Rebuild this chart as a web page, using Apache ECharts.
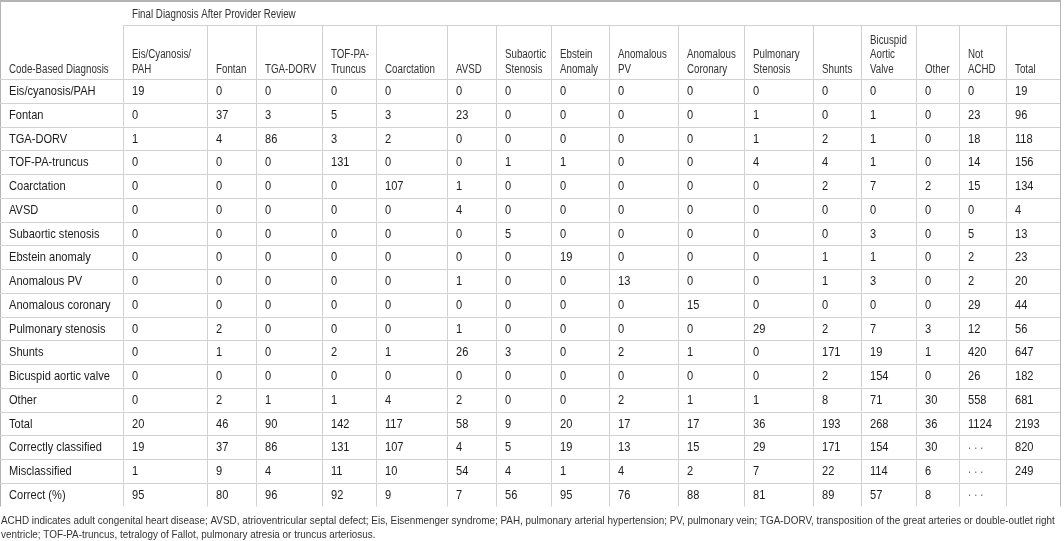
<!DOCTYPE html>
<html><head><meta charset="utf-8">
<script src="https://cdn.jsdelivr.net/npm/echarts@6/dist/echarts.min.js"></script>
<style>html,body{margin:0;padding:0;background:#fff}#c{width:1064px;height:541px}</style>
</head><body><div id="c"></div>
<script>
// ---------- DATA ----------
const spanHeader = 'Final Diagnosis After Provider Review';
const rowHeaderTitle = 'Code-Based Diagnosis';
const colHeaders = [
  'Eis/Cyanosis/\nPAH', 'Fontan', 'TGA-DORV', 'TOF-PA-\nTruncus', 'Coarctation', 'AVSD',
  'Subaortic\nStenosis', 'Ebstein\nAnomaly', 'Anomalous\nPV', 'Anomalous\nCoronary',
  'Pulmonary\nStenosis', 'Shunts', 'Bicuspid\nAortic\nValve', 'Other', 'Not\nACHD', 'Total'
];
const rowLabels = [
  'Eis/cyanosis/PAH', 'Fontan', 'TGA-DORV', 'TOF-PA-truncus', 'Coarctation', 'AVSD',
  'Subaortic stenosis', 'Ebstein anomaly', 'Anomalous PV', 'Anomalous coronary',
  'Pulmonary stenosis', 'Shunts', 'Bicuspid aortic valve', 'Other', 'Total',
  'Correctly classified', 'Misclassified', 'Correct (%)'
];
const rowEis        = [19, 0, 0, 0, 0, 0, 0, 0, 0, 0, 0, 0, 0, 0, 0, 19];
const rowFontan     = [0, 37, 3, 5, 3, 23, 0, 0, 0, 0, 1, 0, 1, 0, 23, 96];
const rowTgaDorv    = [1, 4, 86, 3, 2, 0, 0, 0, 0, 0, 1, 2, 1, 0, 18, 118];
const rowTof        = [0, 0, 0, 131, 0, 0, 1, 1, 0, 0, 4, 4, 1, 0, 14, 156];
const rowCoarct     = [0, 0, 0, 0, 107, 1, 0, 0, 0, 0, 0, 2, 7, 2, 15, 134];
const rowAvsd       = [0, 0, 0, 0, 0, 4, 0, 0, 0, 0, 0, 0, 0, 0, 0, 4];
const rowSubaortic  = [0, 0, 0, 0, 0, 0, 5, 0, 0, 0, 0, 0, 3, 0, 5, 13];
const rowEbstein    = [0, 0, 0, 0, 0, 0, 0, 19, 0, 0, 0, 1, 1, 0, 2, 23];
const rowAnomPV     = [0, 0, 0, 0, 0, 1, 0, 0, 13, 0, 0, 1, 3, 0, 2, 20];
const rowAnomCor    = [0, 0, 0, 0, 0, 0, 0, 0, 0, 15, 0, 0, 0, 0, 29, 44];
const rowPulmSten   = [0, 2, 0, 0, 0, 1, 0, 0, 0, 0, 29, 2, 7, 3, 12, 56];
const rowShunts     = [0, 1, 0, 2, 1, 26, 3, 0, 2, 1, 0, 171, 19, 1, 420, 647];
const rowBicuspid   = [0, 0, 0, 0, 0, 0, 0, 0, 0, 0, 0, 2, 154, 0, 26, 182];
const rowOther      = [0, 2, 1, 1, 4, 2, 0, 0, 2, 1, 1, 8, 71, 30, 558, 681];
const rowTotal      = [20, 46, 90, 142, 117, 58, 9, 20, 17, 17, 36, 193, 268, 36, 1124, 2193];
const rowCorrectly  = [19, 37, 86, 131, 107, 4, 5, 19, 13, 15, 29, 171, 154, 30, '. . .', 820];
const rowMisclass   = [1, 9, 4, 11, 10, 54, 4, 1, 4, 2, 7, 22, 114, 6, '. . .', 249];
const rowCorrectPct = [95, 80, 96, 92, 9, 7, 56, 95, 76, 88, 81, 89, 57, 8, '. . .', ''];
const tableRows = [rowEis, rowFontan, rowTgaDorv, rowTof, rowCoarct, rowAvsd, rowSubaortic,
  rowEbstein, rowAnomPV, rowAnomCor, rowPulmSten, rowShunts, rowBicuspid, rowOther,
  rowTotal, rowCorrectly, rowMisclass, rowCorrectPct];
const footnoteLines = [
  'ACHD indicates adult congenital heart disease; AVSD, atrioventricular septal defect; Eis, Eisenmenger syndrome; PAH, pulmonary arterial hypertension; PV, pulmonary vein; TGA-DORV, transposition of the great arteries or double-outlet right',
  'ventricle; TOF-PA-truncus, tetralogy of Fallot, pulmonary atresia or truncus arteriosus.'
];

// ---------- LAYOUT ----------
const colWidths = [123, 84, 49, 66, 54, 71, 49, 55, 58, 69, 66, 69, 48, 55, 43, 47, 54];
const headerHeights = [24, 54];
const rowHeight = 23.75;
const padX = 9;
const narrow = 0.82;
const lineColor = '#d2d2d2';
const borderColor = '#b4b4b4';
const bodyFont = '13.5px "Liberation Sans", Arial, sans-serif';
const headFont = '12.5px "Liberation Sans", Arial, sans-serif';
const footFont = '11.5px "Liberation Sans", Arial, sans-serif';

const colEdges = [0];
colWidths.forEach(w => colEdges.push(colEdges[colEdges.length - 1] + w));
const tableWidth = colEdges[colEdges.length - 1];
const headTotal = headerHeights[0] + headerHeights[1];
const tableHeight = headTotal + rowLabels.length * rowHeight;

const bodyCells = [];
rowLabels.forEach((lab, r) => {
  bodyCells.push({ c: 0, r, text: lab });
  tableRows[r].forEach((v, j) => bodyCells.push({ c: j + 1, r, text: String(v) }));
});
const headCells = [{ c: 0, text: rowHeaderTitle }];
colHeaders.forEach((h, j) => headCells.push({ c: j + 1, text: h }));

const crisp = v => Math.round(v) + 0.5;
const narrowText = (px, py, style, sx) => ({
  type: 'text', x: px, y: py, scaleX: sx || narrow, scaleY: 1,
  style: Object.assign({ x: 0, y: 0, align: 'left' }, style)
});

const chart = echarts.init(document.getElementById('c'), null, { renderer: 'canvas' });
chart.setOption({
  animation: false,
  backgroundColor: '#ffffff',
  grid: { left: 0, top: 1, width: tableWidth, height: tableHeight, containLabel: false },
  xAxis: { type: 'value', min: 0, max: tableWidth, show: false },
  yAxis: { type: 'value', min: 0, max: tableHeight, inverse: true, show: false },
  series: [
    {
      type: 'custom',
      name: 'header',
      silent: true,
      data: headCells.map(h => [colEdges[h.c], 0]),
      renderItem(params, api) {
        const cell = headCells[params.dataIndex];
        const children = [];
        const y0 = cell.c === 0 ? 0 : headerHeights[0];
        const a = api.coord([colEdges[cell.c], y0]);
        const b = api.coord([colEdges[cell.c + 1], headTotal]);
        if (cell.c > 0) {
          children.push({ type: 'line', shape: { x1: crisp(a[0]), y1: a[1], x2: crisp(a[0]), y2: b[1] },
            style: { stroke: lineColor, lineWidth: 1 } });
          children.push({ type: 'line', shape: { x1: a[0], y1: crisp(a[1]), x2: b[0], y2: crisp(a[1]) },
            style: { stroke: lineColor, lineWidth: 1 } });
        }
        children.push(narrowText(a[0] + padX, b[1] - 2.5, {
          text: cell.text, verticalAlign: 'bottom', font: headFont, lineHeight: 14.5, fill: '#333333' }, 0.78));
        if (cell.c === 1) {
          const s = api.coord([colEdges[1], headerHeights[0] / 2 + 1.5]);
          children.push(narrowText(s[0] + padX, s[1], {
            text: spanHeader, verticalAlign: 'middle', font: headFont, fill: '#333333' }, 0.78));
        }
        return { type: 'group', children };
      }
    },
    {
      type: 'custom',
      name: 'body',
      silent: true,
      data: bodyCells.map(d => [colEdges[d.c], headTotal + d.r * rowHeight]),
      renderItem(params, api) {
        const cell = bodyCells[params.dataIndex];
        const y0 = headTotal + cell.r * rowHeight;
        const a = api.coord([colEdges[cell.c], y0]);
        const b = api.coord([colEdges[cell.c + 1], y0 + rowHeight]);
        const children = [
          { type: 'line', shape: { x1: a[0], y1: crisp(a[1]), x2: b[0], y2: crisp(a[1]) },
            style: { stroke: lineColor, lineWidth: 1 } }
        ];
        if (cell.c > 0) {
          children.push({ type: 'line', shape: { x1: crisp(a[0]), y1: a[1], x2: crisp(a[0]), y2: b[1] },
            style: { stroke: lineColor, lineWidth: 1 } });
        }
        const dots = cell.text === '. . .';
        children.push(narrowText(a[0] + padX, (a[1] + b[1]) / 2 + (dots ? -2 : 0.5), {
          text: cell.text, verticalAlign: 'middle', font: bodyFont,
          fill: dots ? '#666666' : '#1c1c1c' }));
        return { type: 'group', children };
      }
    }
  ]
});

const tl = chart.convertToPixel({ gridIndex: 0 }, [0, 0]);
const br = chart.convertToPixel({ gridIndex: 0 }, [tableWidth, tableHeight]);
chart.setOption({
  graphic: [
    { type: 'line', silent: true, shape: { x1: tl[0], y1: tl[1], x2: br[0] + 1, y2: tl[1] },
      style: { stroke: borderColor, lineWidth: 2 } },
    { type: 'line', silent: true, shape: { x1: crisp(tl[0]), y1: tl[1], x2: crisp(tl[0]), y2: br[1] },
      style: { stroke: borderColor, lineWidth: 1 } },
    { type: 'line', silent: true, shape: { x1: crisp(br[0]), y1: tl[1], x2: crisp(br[0]), y2: br[1] },
      style: { stroke: borderColor, lineWidth: 1 } },
    { type: 'text', silent: true, x: 1, y: br[1] + 8, scaleX: 0.86,
      style: { x: 0, y: 0, text: footnoteLines.join('\n'), font: footFont, lineHeight: 13.5, fill: '#333333' } }
  ]
});
</script>
</body></html>
